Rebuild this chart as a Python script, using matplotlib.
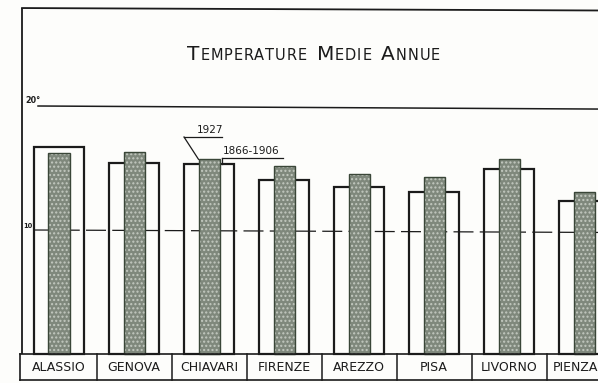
import numpy as np
import matplotlib
matplotlib.use("Agg")
import matplotlib.pyplot as plt
from matplotlib.transforms import IdentityTransform

# temperature medie annue (°C)
stazioni = ["ALASSIO", "GENOVA", "CHIAVARI", "FIRENZE", "AREZZO", "PISA", "LIVORNO", "PIENZA"]
media_1866_1906 = [16.7, 15.4, 15.3, 14.0, 13.5, 13.1, 14.9, 12.3]
media_1927 = [16.2, 16.3, 15.7, 15.2, 14.5, 14.3, 15.7, 13.1]
periodi = ["1927", "1866-1906"]
titolo = ["TEMPERATURE", "MEDIE", "ANNUE"]
livelli = [10, 20]

ink = "#1b1b1b"
carta = "#fdfdfb"
grigio = "#7f887c"

fig = plt.figure(figsize=(5.98, 3.83), dpi=100, facecolor=carta)
ax = fig.add_axes([0, 0, 1, 1])
ax.set_facecolor(carta)
ax.set_axis_off()

# one category every 75 px, 12.4 px per degree
ax.set_xlim(-59 / 75, (598 - 59) / 75)
ax.set_ylim(-29 / 12.4, 354 / 12.4)

x = np.arange(len(stazioni))
w_bianca = 0.667
w_grigia = 0.28

# outer frame
ax.plot([-0.493, -0.493], [0, 27.9], color=ink, lw=1.3, solid_capstyle="butt")
ax.plot([-0.493, 7.3], [27.9, 27.7], color=ink, lw=1.3)

# reference levels
ax.plot([-0.28, 7.3], [livelli[1], livelli[1] - 0.25], color=ink, lw=1.1, zorder=2)
ax.text(-0.45, livelli[1] + 0.1, "%d°" % livelli[1], fontsize=5.8, color=ink,
        va="bottom", ha="left", fontweight="bold")
ax.plot([-0.34, 7.3], [livelli[0], livelli[0] - 0.2], color=ink, lw=0.9,
        dashes=(16, 5), zorder=3)
ax.text(-0.47, livelli[0] + 0.1, "%d°" % livelli[0], fontsize=4.8, color=ink,
        va="bottom", ha="left", fontweight="bold")

# 1866-1906: open bars; 1927: stippled grey bars
ax.bar(x, media_1866_1906, width=w_bianca, bottom=0, facecolor=carta,
       edgecolor=ink, linewidth=1.6, zorder=2)
ax.bar(x, media_1927, width=w_grigia, facecolor=grigio, edgecolor="#c3c9c0",
       hatch="....", linewidth=0, zorder=4)
ax.bar(x, media_1927, width=w_grigia, fill=False, edgecolor="#3a4638",
       linewidth=1.0, zorder=5)

# station name boxes under the bars
y_top, y_bot = 0, -2.1
ax.plot([-0.52, 7.3], [y_top, y_top], color=ink, lw=1.2, zorder=6)
ax.plot([-0.52, 7.3], [y_bot, y_bot], color=ink, lw=1.2, zorder=6)
ax.plot([-0.52, -0.52], [y_top, y_bot], color=ink, lw=1.2, zorder=6)
for i in range(len(stazioni) - 1):
    ax.plot([i + 0.5, i + 0.5], [y_top, y_bot], color=ink, lw=1.1, zorder=6)
for xi, nome in zip(x, stazioni):
    if xi == len(stazioni) - 1:
        # last box runs off the sheet: start the name just after the divider
        ax.text(xi - 0.5 + 0.09, (y_top + y_bot) / 2 - 0.05, nome, ha="left",
                va="center", fontsize=9.0, color=ink)
    else:
        ax.text(xi, (y_top + y_bot) / 2 - 0.05, nome, ha="center", va="center",
                fontsize=9.0, color=ink)

# period callouts on Chiavari
k = 2
ax.text(k + 0.01, 17.65, periodi[0], ha="center", va="bottom", fontsize=7.5, color=ink)
ax.plot([k - 0.333, k + 0.173], [17.5, 17.5], color=ink, lw=0.9)
ax.plot([k - 0.333, k - w_grigia / 2], [17.5, media_1927[k]], color=ink, lw=0.9)
ax.text(k + 0.56, 15.95, periodi[1], ha="center", va="bottom", fontsize=7.5, color=ink)
ax.plot([k + 0.173, k + 0.987], [15.8, 15.8], color=ink, lw=0.9)
ax.plot([k + 0.173, k + 0.173], [15.8, media_1866_1906[k]], color=ink, lw=0.9)

# title in small caps, letter-spaced
fig.canvas.draw()
r = fig.canvas.get_renderer()
pezzi = []
for j, parola in enumerate(titolo):
    if j:
        pezzi.append((" ", 10.5))
    pezzi.append((parola[0], 14.5))
    for c in parola[1:]:
        pezzi.append((c, 10.5))
testi = []
for c, s in pezzi:
    t = fig.text(0, 0, c, fontsize=s, color=ink, va="baseline", ha="left",
                 transform=IdentityTransform(), fontfamily="DejaVu Sans")
    testi.append(t)
larghezze = [t.get_window_extent(r).width if c != " " else 8 for t, (c, s) in zip(testi, pezzi)]
x0, x1 = 187, 440
passo = max((x1 - x0 - sum(larghezze)) / (len(testi) - 1), 0)
cx = x0
for t, wd in zip(testi, larghezze):
    t.set_position((cx, 383 - 60))
    cx += wd + passo

fig.savefig("out.png", dpi=100, facecolor=carta)
